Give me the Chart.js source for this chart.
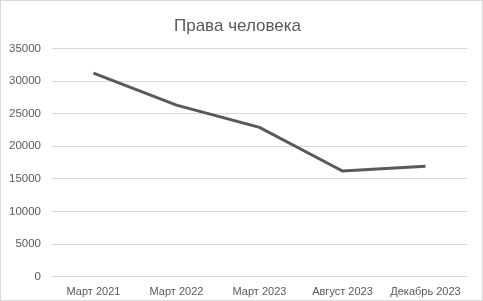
<!DOCTYPE html>
<html>
<head>
<meta charset="utf-8">
<script src="https://cdn.jsdelivr.net/npm/chart.js@4"></script>
<style>
  html, body { margin: 0; padding: 0; background: #fff; }
  #wrap { width: 481px; height: 299px; border: 1px solid #d9d9d9; position: relative; }
</style>
</head>
<body>
<div id="wrap"><canvas id="lineChart"></canvas></div>
<script>
// данные графика
const labels = ["Март 2021", "Март 2022", "Март 2023", "Август 2023", "Декабрь 2023"];
const values = [31200, 26300, 22900, 16200, 16950];
const yTicks = [0, 5000, 10000, 15000, 20000, 25000, 30000, 35000];

const ctx = document.getElementById("lineChart").getContext("2d");
const chart = new Chart(ctx, {
    type: "line",
    data: {
        labels: labels,
        datasets: [
            {
                label: "Права человека",
                data: values,
                borderColor: "#595959",
                borderWidth: 3,
                pointRadius: 0,
                tension: 0,
                fill: false,
            },
        ],
    },
    options: {
        responsive: true,
        maintainAspectRatio: false,
        animation: false,
        layout: { padding: { left: 7, right: 15, top: 0, bottom: 0 } },
        plugins: {
            legend: { display: false },
            tooltip: { enabled: false },
            title: {
                display: true,
                text: "Права человека",
                color: "#595959",
                font: { family: "Liberation Sans", size: 17, weight: "normal" },
                padding: { top: 15, bottom: 12 },
            },
        },
        scales: {
            x: {
                offset: true,
                grid: { display: false },
                border: { display: false },
                ticks: {
                    color: "#595959",
                    font: { family: "Liberation Sans", size: 11 },
                    padding: 1,
                    maxRotation: 0,
                    autoSkip: false,
                },
            },
            y: {
                min: 0,
                max: 35000,
                afterBuildTicks: (axis) => { axis.ticks = yTicks.map((v) => ({ value: v })); },
                afterFit: (axis) => { axis.width = 44; },
                grid: { color: "#d9d9d9", lineWidth: 1, drawTicks: false },
                border: { display: false },
                ticks: {
                    color: "#595959",
                    font: { family: "Liberation Sans", size: 11.5 },
                    padding: 11,
                    callback: (v) => String(v),
                },
            },
        },
    },
});
</script>
</body>
</html>
